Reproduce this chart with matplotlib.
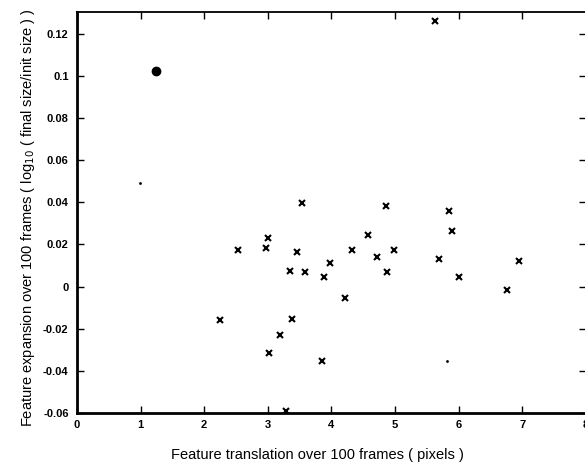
import matplotlib
matplotlib.use('Agg')
import matplotlib.pyplot as plt

# features: translation (pixels) vs expansion (log10 size ratio)
translation = [2.25, 2.53, 2.97, 3.01, 3.02, 3.19, 3.29, 3.35, 3.38, 3.46,
               3.54, 3.58, 3.85, 3.89, 3.98, 4.21, 4.32, 4.57, 4.72, 4.85,
               4.88, 4.98, 5.62, 5.69, 5.85, 5.90, 6.01, 6.76, 6.95]
expansion = [-0.0158, 0.0174, 0.0182, 0.0231, -0.0316, -0.0232, -0.0591, 0.0073, -0.0155, 0.0163,
             0.0397, 0.0071, -0.0355, 0.0043, 0.0112, -0.0055, 0.0175, 0.0246, 0.0142, 0.0380,
             0.0071, 0.0171, 0.1260, 0.0131, 0.0360, 0.0264, 0.0043, -0.0016, 0.0122]

# highlighted feature
big_x = [1.24]
big_y = [0.1024]

# tiny stray points
dot_x = [0.99, 5.81]
dot_y = [0.049, -0.0355]

xticks = [0, 1, 2, 3, 4, 5, 6, 7, 8]
yticks = [-0.06, -0.04, -0.02, 0, 0.02, 0.04, 0.06, 0.08, 0.1, 0.12]
ytick_labels = ['-0.06', '-0.04', '-0.02', '0', '0.02', '0.04', '0.06', '0.08', '0.1', '0.12']

plt.rcParams['font.family'] = ['Liberation Sans', 'DejaVu Sans']

fig = plt.figure(figsize=(5.85, 4.62), dpi=100)
ax = fig.add_axes([0.1316, 0.106, 0.87, 0.867])

ax.plot(translation, expansion, 'kx', markersize=4.5, markeredgewidth=1.5)
ax.plot(big_x, big_y, 'ko', markersize=6)
ax.plot(dot_x, dot_y, 'k.', markersize=2)

ax.set_xlim(0, 8)
ax.set_ylim(-0.06, 0.13)
ax.set_xticks(xticks)
ax.set_xticklabels([str(t) for t in xticks], fontweight='bold', fontsize=8)
ax.set_yticks(yticks)
ax.set_yticklabels(ytick_labels, fontweight='bold', fontsize=8)
ax.tick_params(direction='in', length=5, width=1, top=True, right=True)
ax.tick_params(axis='x', pad=5)
ax.tick_params(axis='y', pad=6)

for side in ['left', 'bottom']:
    ax.spines[side].set_linewidth(2)
for side in ['top', 'right']:
    ax.spines[side].set_linewidth(1.3)

ax.set_xlabel('Feature translation over 100 frames ( pixels )', fontsize=10.5, labelpad=13)
ax.set_ylabel('Feature expansion over 100 frames ( log$_{10}$ ( final size/init size ) )',
              fontsize=10.5, labelpad=4)
ax.xaxis.label.set_x(0.473)
ax.yaxis.label.set_y(0.488)

fig.savefig('out.png', dpi=100)
